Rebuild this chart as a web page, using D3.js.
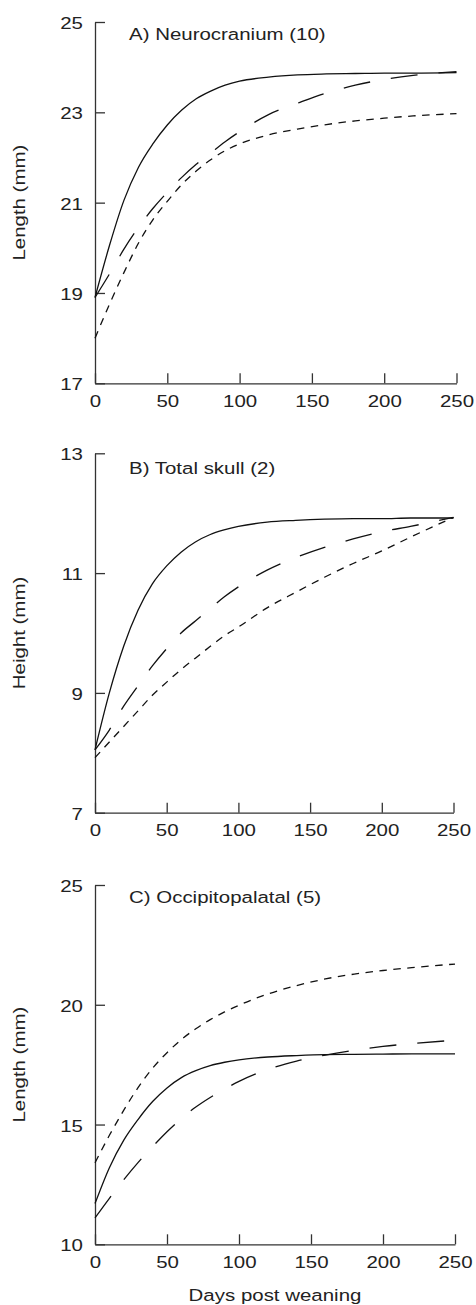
<!DOCTYPE html>
<html>
<head>
<meta charset="utf-8">
<script src="https://cdn.jsdelivr.net/npm/d3@7/dist/d3.min.js"></script>
<style>
  html, body { margin: 0; padding: 0; background: #fff; }
  svg { display: block; }
</style>
</head>
<body>
<svg id="chart" width="476" height="1305"></svg>
<script>
// ---- data ----
const days = [0,10,20,30,40,50,60,70,80,90,100,120,140,160,180,200,220,250];
const xTicks = [0,50,100,150,200,250];

const panelTitles = ["A) Neurocranium (10)", "B) Total skull (2)", "C) Occipitopalatal (5)"];
const yLabels = ["Length (mm)", "Height (mm)", "Length (mm)"];
const yDomains = [[17,25],[7,13],[10,25]];
const yTickValues = [[17,19,21,23,25],[7,9,11,13],[10,15,20,25]];
const xLabel = "Days post weaning";

const neuroSolid = [18.9,20.05,21.05,21.78,22.3,22.72,23.05,23.3,23.47,23.6,23.69,23.78,23.83,23.85,23.86,23.87,23.87,23.88];
const neuroLong  = [18.9,19.42,19.97,20.45,20.87,21.23,21.56,21.85,22.1,22.35,22.57,22.95,23.2,23.43,23.6,23.73,23.82,23.9];
const neuroShort = [18.0,18.75,19.45,20.1,20.62,21.03,21.4,21.7,21.95,22.15,22.3,22.5,22.63,22.73,22.81,22.87,22.92,22.97];

const skullSolid = [8.05,9.0,9.78,10.38,10.82,11.12,11.35,11.52,11.64,11.72,11.78,11.85,11.88,11.9,11.91,11.91,11.92,11.92];
const skullLong  = [8.05,8.38,8.78,9.12,9.45,9.74,10.0,10.2,10.4,10.6,10.77,11.05,11.26,11.43,11.57,11.69,11.78,11.93];
const skullShort = [7.92,8.18,8.44,8.7,8.96,9.18,9.39,9.58,9.77,9.95,10.1,10.42,10.68,10.93,11.16,11.37,11.6,11.93];

const occSolid = [11.7,13.2,14.35,15.22,15.96,16.53,16.96,17.25,17.46,17.6,17.7,17.82,17.88,17.92,17.93,17.94,17.95,17.95];
const occLong  = [11.1,11.92,12.7,13.42,14.08,14.7,15.25,15.73,16.13,16.48,16.8,17.3,17.65,17.9,18.1,18.26,18.38,18.52];
const occShort = [13.4,14.55,15.6,16.55,17.35,18.0,18.55,19.0,19.38,19.7,19.98,20.45,20.8,21.08,21.28,21.43,21.55,21.7];

const panelSeries = [
  [neuroSolid, neuroLong, neuroShort],
  [skullSolid, skullLong, skullShort],
  [occSolid, occLong, occShort]
];

// ---- layout / style ----
const layout = [
  {top: 22,  bottom: 383.3, right: 456.5, titleY: 40},
  {top: 453.3, bottom: 812.7, right: 453.5, titleY: 474},
  {top: 885, bottom: 1244.3, right: 455, titleY: 903}
];
const axisX = 95;
const FS = 16.5, SX = 1.24;
const dashes = [null, "27,21", "7.5,6.5"];
const font = "'Liberation Sans', Arial, Helvetica, sans-serif";

const svg = d3.select("#chart");

function stretchTicks(sel) {
  sel.selectAll(".tick text").each(function() {
    const t = d3.select(this);
    const x = +t.attr("x") || 0;
    t.attr("transform", `translate(${x},0) scale(${SX},1) translate(${-x},0)`);
  });
}

panelSeries.forEach((series, i) => {
  const L = layout[i];
  const x = d3.scaleLinear().domain([0,250]).range([axisX, L.right]);
  const y = d3.scaleLinear().domain(yDomains[i]).range([L.bottom, L.top]);
  const g = svg.append("g");

  const yAx = g.append("g").attr("transform", `translate(${axisX},0)`)
    .call(d3.axisLeft(y).tickValues(yTickValues[i]).tickFormat(d3.format("d"))
      .tickSizeInner(-10).tickSizeOuter(0).tickPadding(12));
  const xAx = g.append("g").attr("transform", `translate(0,${L.bottom})`)
    .call(d3.axisBottom(x).tickValues(xTicks).tickFormat(d3.format("d"))
      .tickSizeInner(-10).tickSizeOuter(0).tickPadding(12));
  [yAx, xAx].forEach(a => {
    a.selectAll("path.domain").attr("stroke", "#333").attr("stroke-width", 1.3);
    a.selectAll(".tick line").attr("stroke", "#333").attr("stroke-width", 1.3);
    a.selectAll(".tick text").attr("fill", "#222").style("font-family", font).style("font-size", FS + "px");
  });
  yAx.selectAll(".tick text").attr("dy", "0.4em");
  stretchTicks(yAx);
  stretchTicks(xAx);

  const line = d3.line().x((d, k) => x(days[k])).y(d => y(d)).curve(d3.curveMonotoneX);
  series.forEach((vals, s) => {
    g.append("path").datum(vals)
      .attr("d", line)
      .attr("fill", "none")
      .attr("stroke", "#111")
      .attr("stroke-width", 1.3)
      .attr("stroke-dasharray", dashes[s]);
  });

  g.append("text")
    .attr("transform", `translate(129,${L.titleY}) scale(${SX},1)`)
    .style("font-family", font).style("font-size", FS + "px").attr("fill", "#222")
    .text(panelTitles[i]);

  g.append("text")
    .attr("transform", `translate(25,${(L.top + L.bottom) / 2}) rotate(-90) scale(${SX},1)`)
    .attr("text-anchor", "middle")
    .style("font-family", font).style("font-size", FS + "px").attr("fill", "#222")
    .text(yLabels[i]);
});

svg.append("text")
  .attr("transform", `translate(275,1301) scale(${SX},1)`)
  .attr("text-anchor", "middle")
  .style("font-family", font).style("font-size", FS + "px").attr("fill", "#222")
  .text(xLabel);
</script>
</body>
</html>
